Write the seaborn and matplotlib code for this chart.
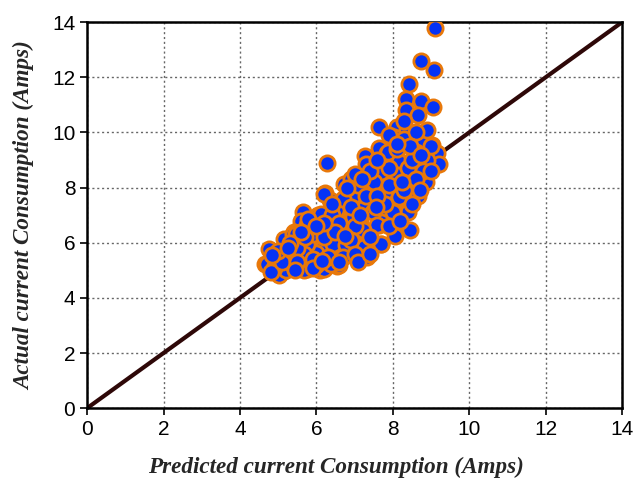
import numpy as np
import pandas as pd
import seaborn as sns
import matplotlib.pyplot as plt

# predicted vs actual current (Amps)
predicted = [
    9.10, 8.75, 9.08, 8.43, 8.35, 8.73, 9.06, 8.35, 8.67, 7.63, 8.10, 8.36, 8.02, 8.30,
    8.80, 9.02, 9.15, 9.22, 8.70, 7.64, 7.86, 7.28, 8.21, 7.72, 8.27, 8.86, 8.53, 6.29,
    7.32, 7.74, 6.92, 6.73, 6.23, 7.04, 7.48, 7.80, 8.20, 8.66, 6.36, 7.32, 8.02, 8.41,
    6.56, 6.09, 7.63, 6.97, 5.64, 5.59, 6.36, 5.81, 7.23, 8.45, 5.42, 7.65, 6.61, 8.06,
    5.14, 6.06, 5.70, 6.09, 6.49, 6.86, 7.26, 7.70, 4.75, 4.92, 5.31, 5.70, 6.00, 6.49,
    7.32, 5.16, 5.75, 6.09, 6.54, 4.65, 5.03, 5.35, 5.40, 5.75, 5.75, 6.07, 6.54, 6.05,
    6.84, 7.06, 7.15, 6.58, 6.20, 6.20, 6.52, 6.90, 7.43, 7.69, 7.87, 8.17, 7.30, 8.11,
    7.26, 7.68, 6.12, 5.79, 8.17, 6.96, 7.47, 8.00, 7.60, 7.21, 7.69, 7.25, 6.86, 4.72,
    5.20, 5.38, 5.16, 5.47, 5.68, 5.68, 5.99, 6.34, 6.43, 6.38, 6.77, 6.86, 4.90, 4.80,
    7.50, 7.90, 8.40, 8.60, 8.90, 7.10, 6.70, 6.90, 7.30, 7.80, 8.30, 8.50, 8.80, 6.40,
    6.60, 7.00, 7.40, 7.90, 8.20, 5.90, 6.20, 6.50, 6.90, 5.50, 5.90, 6.30, 6.70, 7.00,
    5.10, 5.50, 5.00, 5.30, 5.70, 6.20, 7.60, 7.90, 8.10, 8.50, 8.30, 7.90, 7.40, 6.80,
    6.40, 6.00, 5.60, 8.60, 9.00, 8.90, 8.60, 8.45, 8.10, 7.60, 7.00, 8.70, 9.00, 5.90,
    6.60, 7.10, 7.40, 5.25, 4.85, 5.45, 6.15, 6.75, 7.15, 7.55, 8.25, 8.75, 7.20,
]
actual = [
    13.80, 12.58, 12.28, 11.76, 11.22, 11.15, 10.92, 10.82, 10.62, 10.20, 10.20, 10.08, 9.83, 9.78,
    9.60, 9.53, 9.25, 8.85, 8.98, 9.42, 9.25, 9.15, 8.92, 8.55, 8.44, 8.22, 8.08, 8.90,
    8.68, 8.45, 8.30, 8.14, 7.82, 7.76, 7.84, 7.84, 7.62, 7.70, 7.56, 7.42, 7.11, 7.11,
    7.20, 6.93, 6.99, 6.87, 7.10, 6.78, 6.59, 6.57, 6.45, 6.45, 6.38, 6.63, 6.27, 6.24,
    6.15, 6.11, 5.84, 5.75, 5.84, 5.92, 5.84, 5.97, 5.79, 5.45, 5.51, 5.46, 5.63, 5.48,
    5.48, 4.97, 5.06, 5.00, 5.14, 5.22, 4.84, 5.12, 6.33, 6.63, 5.97, 6.39, 7.24, 6.99,
    5.97, 6.39, 6.81, 5.18, 5.06, 7.78, 7.17, 8.32, 7.84, 8.56, 9.29, 8.92, 8.87, 8.44,
    7.29, 6.75, 7.05, 6.87, 7.66, 6.93, 7.11, 7.11, 6.63, 6.45, 5.97, 5.84, 5.84, 5.24,
    5.00, 5.18, 5.60, 6.33, 5.60, 5.00, 5.18, 6.57, 5.97, 5.24, 5.91, 6.45, 5.10, 4.95,
    8.20, 8.10, 8.70, 9.30, 9.00, 8.10, 7.60, 7.30, 7.70, 7.40, 7.90, 7.40, 8.60, 7.00,
    6.70, 6.60, 6.20, 6.60, 6.80, 6.30, 6.20, 6.40, 6.10, 5.80, 5.40, 5.50, 5.50, 5.60,
    5.30, 5.30, 5.70, 6.00, 6.20, 6.70, 7.70, 8.70, 9.40, 9.00, 10.40, 9.90, 8.60, 8.00,
    7.40, 6.60, 6.40, 8.30, 9.50, 10.10, 10.00, 9.50, 9.60, 9.00, 8.50, 7.90, 8.60, 5.10,
    5.30, 5.30, 5.60, 5.80, 5.55, 5.00, 5.35, 6.25, 7.00, 7.30, 8.20, 9.20, 8.30,
]
ideal_line = [0, 14]
ticks = [0, 2, 4, 6, 8, 10, 12, 14]

df = pd.DataFrame({"Predicted": predicted, "Actual": actual})

sns.set_style("ticks")
fig, ax = plt.subplots(figsize=(6.36, 4.83), dpi=100)
fig.subplots_adjust(left=0.137, right=0.978, top=0.954, bottom=0.155)

# 1:1 reference line behind the points
sns.lineplot(x=ideal_line, y=ideal_line, color="#2e0808", linewidth=3.0, ax=ax, zorder=2)

sns.scatterplot(
    data=df, x="Predicted", y="Actual", ax=ax, s=120,
    color="#0533f5", edgecolor="#e8780a", linewidth=2.0, zorder=3,
)

ax.set_xlim(0, 14)
ax.set_ylim(0, 14)
ax.set_xticks(ticks)
ax.set_yticks(ticks)
ax.grid(True, linestyle=(0, (1.5, 2)), color="#666666", linewidth=1.0, zorder=0)
ax.set_axisbelow(True)

for sp in ax.spines.values():
    sp.set_visible(True)
    sp.set_linewidth(1.8)
    sp.set_color("black")

ax.tick_params(direction="out", length=5, width=1.2, labelsize=15, colors="black")
for lbl in ax.get_xticklabels() + ax.get_yticklabels():
    lbl.set_family("Liberation Sans")

lab_font = dict(family="Liberation Serif", weight="bold", style="italic", size=16.7)
ax.set_xlabel("Predicted current Consumption (Amps)", labelpad=13, **lab_font)
ax.set_ylabel("Actual current Consumption (Amps)", labelpad=12, **lab_font)
ax.xaxis.label.set_x(0.465)

plt.savefig("out.png", dpi=100)
